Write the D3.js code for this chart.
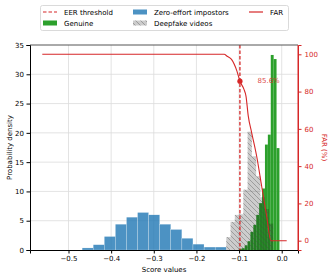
<!DOCTYPE html>
<html lang="en">
<head>
<meta charset="UTF-8">
<title>Score distributions</title>
<script src="https://d3js.org/d3.v7.min.js"></script>
<style>
  body { margin: 0; background: #fff; }
  text { font-family: "DejaVu Sans", sans-serif; font-size: 7px; }
</style>
</head>
<body>
<svg width="334" height="279"></svg>
<script>
// ticks
var xTicks = [-0.5, -0.4, -0.3, -0.2, -0.1, 0.0];
var densityTicks = [0, 5, 10, 15, 20, 25, 30, 35];
var farTicks = [0, 20, 40, 60, 80, 100];

// histograms: left bin edges + bar heights (probability density)
var impostorEdges = [-0.468, -0.442, -0.416, -0.390, -0.364, -0.338, -0.312, -0.286, -0.260, -0.234, -0.208, -0.182, -0.156];
var impostorDensity = [0.35, 0.9, 2.3, 4.4, 5.6, 6.4, 6.0, 4.4, 3.5, 2.0, 1.0, 0.5, 0.5];
var impostorWidth = 0.0258;

var genuineEdges = [-0.1005, -0.0937, -0.0869, -0.0801, -0.0733, -0.0665, -0.0597, -0.0529, -0.0461, -0.0393, -0.0325, -0.0257, -0.0189, -0.0121];
var genuineDensity = [0.2, 0.3, 0.8, 1.5, 3.1, 4.3, 6.0, 8.0, 10.5, 18.0, 19.7, 33.3, 32.6, 17.4];
var genuineWidth = 0.0068;

var deepfakeEdges = [-0.13, -0.12, -0.11, -0.10, -0.09, -0.08, -0.07, -0.06, -0.05, -0.04, -0.03];
var deepfakeDensity = [2.2, 4.8, 6.0, 6.1, 10.3, 20.2, 16.0, 12.6, 9.0, 7.0, 4.5];
var deepfakeWidth = 0.01;

// FAR curve (%)
var farScores = [-0.5615, -0.135, -0.128, -0.1177, -0.105, -0.098, -0.0885, -0.0838, -0.0784, -0.0704, -0.0587, -0.047, -0.0352, -0.0255, 0.0117];
var farValues = [100, 100, 99, 97.3, 91, 85.6, 81.2, 77.6, 66.8, 57.9, 45.3, 29.2, 13.1, 0, 0];

var eerScore = -0.098;
var eerFar = 85.6;

var red = "#d62728";
var svg = d3.select("svg");

var pLeft = 30, pRight = 298, pTop = 45, pBottom = 250;
var x = d3.scaleLinear().domain([-0.5903, 0.0382]).range([pLeft, pRight]);
var y = d3.scaleLinear().domain([0, 35]).range([pBottom, pTop]);
var yR = d3.scaleLinear().domain([-5, 105]).range([pBottom, pTop]);

// hatch pattern for deepfake bars
var defs = svg.append("defs");
var pat = defs.append("pattern")
    .attr("id", "hatch")
    .attr("patternUnits", "userSpaceOnUse")
    .attr("width", 5).attr("height", 5);
pat.append("path")
    .attr("d", "M-1,-1 L6,6 M-1,4 L1,6 M4,-1 L6,1")
    .attr("stroke", "#444").attr("stroke-width", 0.6);

// grid
svg.append("g").selectAll("line")
    .data(xTicks).enter().append("line")
    .attr("x1", d => x(d)).attr("x2", d => x(d))
    .attr("y1", pTop).attr("y2", pBottom)
    .attr("stroke", "#dcdcdc").attr("stroke-width", 0.8);
svg.append("g").selectAll("line")
    .data(densityTicks.slice(1, -1)).enter().append("line")
    .attr("x1", pLeft).attr("x2", pRight)
    .attr("y1", d => y(d)).attr("y2", d => y(d))
    .attr("stroke", "#dcdcdc").attr("stroke-width", 0.8);

function bars(edges, vals, w, cls) {
    return svg.append("g").attr("class", cls).selectAll("rect")
        .data(edges.map((e, i) => ({ x0: e, x1: e + w, v: vals[i] })))
        .enter().append("rect")
        .attr("x", d => x(d.x0))
        .attr("width", d => x(d.x1) - x(d.x0))
        .attr("y", d => y(d.v))
        .attr("height", d => y(0) - y(d.v));
}

bars(impostorEdges, impostorDensity, impostorWidth, "imp")
    .attr("fill", "#1f77b4").attr("fill-opacity", 0.8)
    .attr("stroke", "#fff").attr("stroke-width", 0.3).attr("stroke-opacity", 0.6);

bars(genuineEdges, genuineDensity, genuineWidth, "gen")
    .attr("fill", "#2ca02c");

bars(deepfakeEdges, deepfakeDensity, deepfakeWidth, "df")
    .attr("fill", "#000").attr("fill-opacity", 0.2);
bars(deepfakeEdges, deepfakeDensity, deepfakeWidth, "dfh")
    .attr("fill", "url(#hatch)").attr("opacity", 0.6);

// EER threshold
svg.append("line")
    .attr("x1", x(eerScore)).attr("x2", x(eerScore))
    .attr("y1", pTop).attr("y2", pBottom)
    .attr("stroke", red).attr("stroke-width", 1.3)
    .attr("stroke-dasharray", "3.5,2");

// FAR curve
var farPts = farScores.map((s, i) => [s, farValues[i]]);
svg.append("path")
    .datum(farPts)
    .attr("fill", "none")
    .attr("stroke", red).attr("stroke-width", 1.1)
    .attr("d", d3.line().x(d => x(d[0])).y(d => yR(d[1])).curve(d3.curveMonotoneX));

svg.append("circle")
    .attr("cx", x(eerScore)).attr("cy", yR(eerFar)).attr("r", 2.6)
    .attr("fill", red);
svg.append("text")
    .attr("x", 257.5).attr("y", yR(eerFar) + 2)
    .attr("fill", red).attr("fill-opacity", 0.85)
    .text(eerFar.toFixed(1) + "%");

// spines
svg.append("line").attr("x1", pLeft).attr("x2", pRight).attr("y1", pTop).attr("y2", pTop)
    .attr("stroke", "#555").attr("stroke-width", 1);
svg.append("line").attr("x1", pRight).attr("x2", pRight).attr("y1", pTop).attr("y2", pBottom)
    .attr("stroke", red).attr("stroke-width", 1);

// axes
var fmtX = d => d === 0 ? "0.0" : d3.format(".1f")(d).replace("-", "\u2212");
var gx = svg.append("g").attr("transform", "translate(0," + pBottom + ")")
    .call(d3.axisBottom(x).tickValues(xTicks).tickSize(3.5).tickPadding(3).tickFormat(fmtX));
var gy = svg.append("g").attr("transform", "translate(" + pLeft + ",0)")
    .call(d3.axisLeft(y).tickValues(densityTicks).tickSize(3.5).tickPadding(2.5));
var gr = svg.append("g").attr("transform", "translate(" + pRight + ",0)")
    .call(d3.axisRight(yR).tickValues(farTicks).tickSize(3.5).tickPadding(3));

[gx, gy, gr].forEach(g => {
    g.selectAll("text").style("font-family", "DejaVu Sans").style("font-size", "7px");
});
gx.select(".domain").attr("stroke", "#000");
gy.select(".domain").attr("stroke", "#000");
gr.select(".domain").attr("stroke", red);
gr.selectAll(".tick line").attr("stroke", red);
gr.selectAll(".tick text").attr("fill", red);

// axis labels
svg.append("text").attr("x", (pLeft + pRight) / 2).attr("y", 272)
    .attr("text-anchor", "middle").text("Score values");
svg.append("text")
    .attr("transform", "translate(12," + (pTop + pBottom) / 2 + ") rotate(-90)")
    .attr("text-anchor", "middle").text("Probability density");
svg.append("text")
    .attr("transform", "translate(322," + (pTop + pBottom) / 2 + ") rotate(90)")
    .attr("text-anchor", "middle").attr("fill", red).text("FAR (%)");

// legend
var lg = svg.append("g");
lg.append("rect").attr("x", 40.5).attr("y", 5.5).attr("width", 248).attr("height", 25)
    .attr("rx", 2).attr("fill", "#fff").attr("stroke", "#d0d0d0").attr("stroke-width", 0.8);

var legendItems = [
    { label: "EER threshold", kind: "dash", hx: 43, ty: 12 },
    { label: "Genuine", kind: "gen", hx: 43, ty: 23 },
    { label: "Zero-effort impostors", kind: "imp", hx: 133, ty: 12 },
    { label: "Deepfake videos", kind: "df", hx: 133, ty: 23 },
    { label: "FAR", kind: "line", hx: 249, ty: 12 }
];
legendItems.forEach(it => {
    if (it.kind === "dash" || it.kind === "line") {
        lg.append("line").attr("x1", it.hx).attr("x2", it.hx + 14)
            .attr("y1", it.ty).attr("y2", it.ty)
            .attr("stroke", red).attr("stroke-width", 1.2)
            .attr("stroke-dasharray", it.kind === "dash" ? "3.5,2" : null);
    } else {
        var r = lg.append("rect").attr("x", it.hx).attr("y", it.ty - 2.5)
            .attr("width", 14).attr("height", 5);
        if (it.kind === "gen") r.attr("fill", "#2ca02c");
        if (it.kind === "imp") r.attr("fill", "#1f77b4").attr("fill-opacity", 0.8);
        if (it.kind === "df") {
            r.attr("fill", "#000").attr("fill-opacity", 0.2);
            lg.append("rect").attr("x", it.hx).attr("y", it.ty - 2.5)
                .attr("width", 14).attr("height", 5)
                .attr("fill", "url(#hatch)").attr("opacity", 0.6);
        }
    }
    lg.append("text").attr("x", it.hx + 21).attr("y", it.ty + 2.5).text(it.label);
});
</script>
</body>
</html>
